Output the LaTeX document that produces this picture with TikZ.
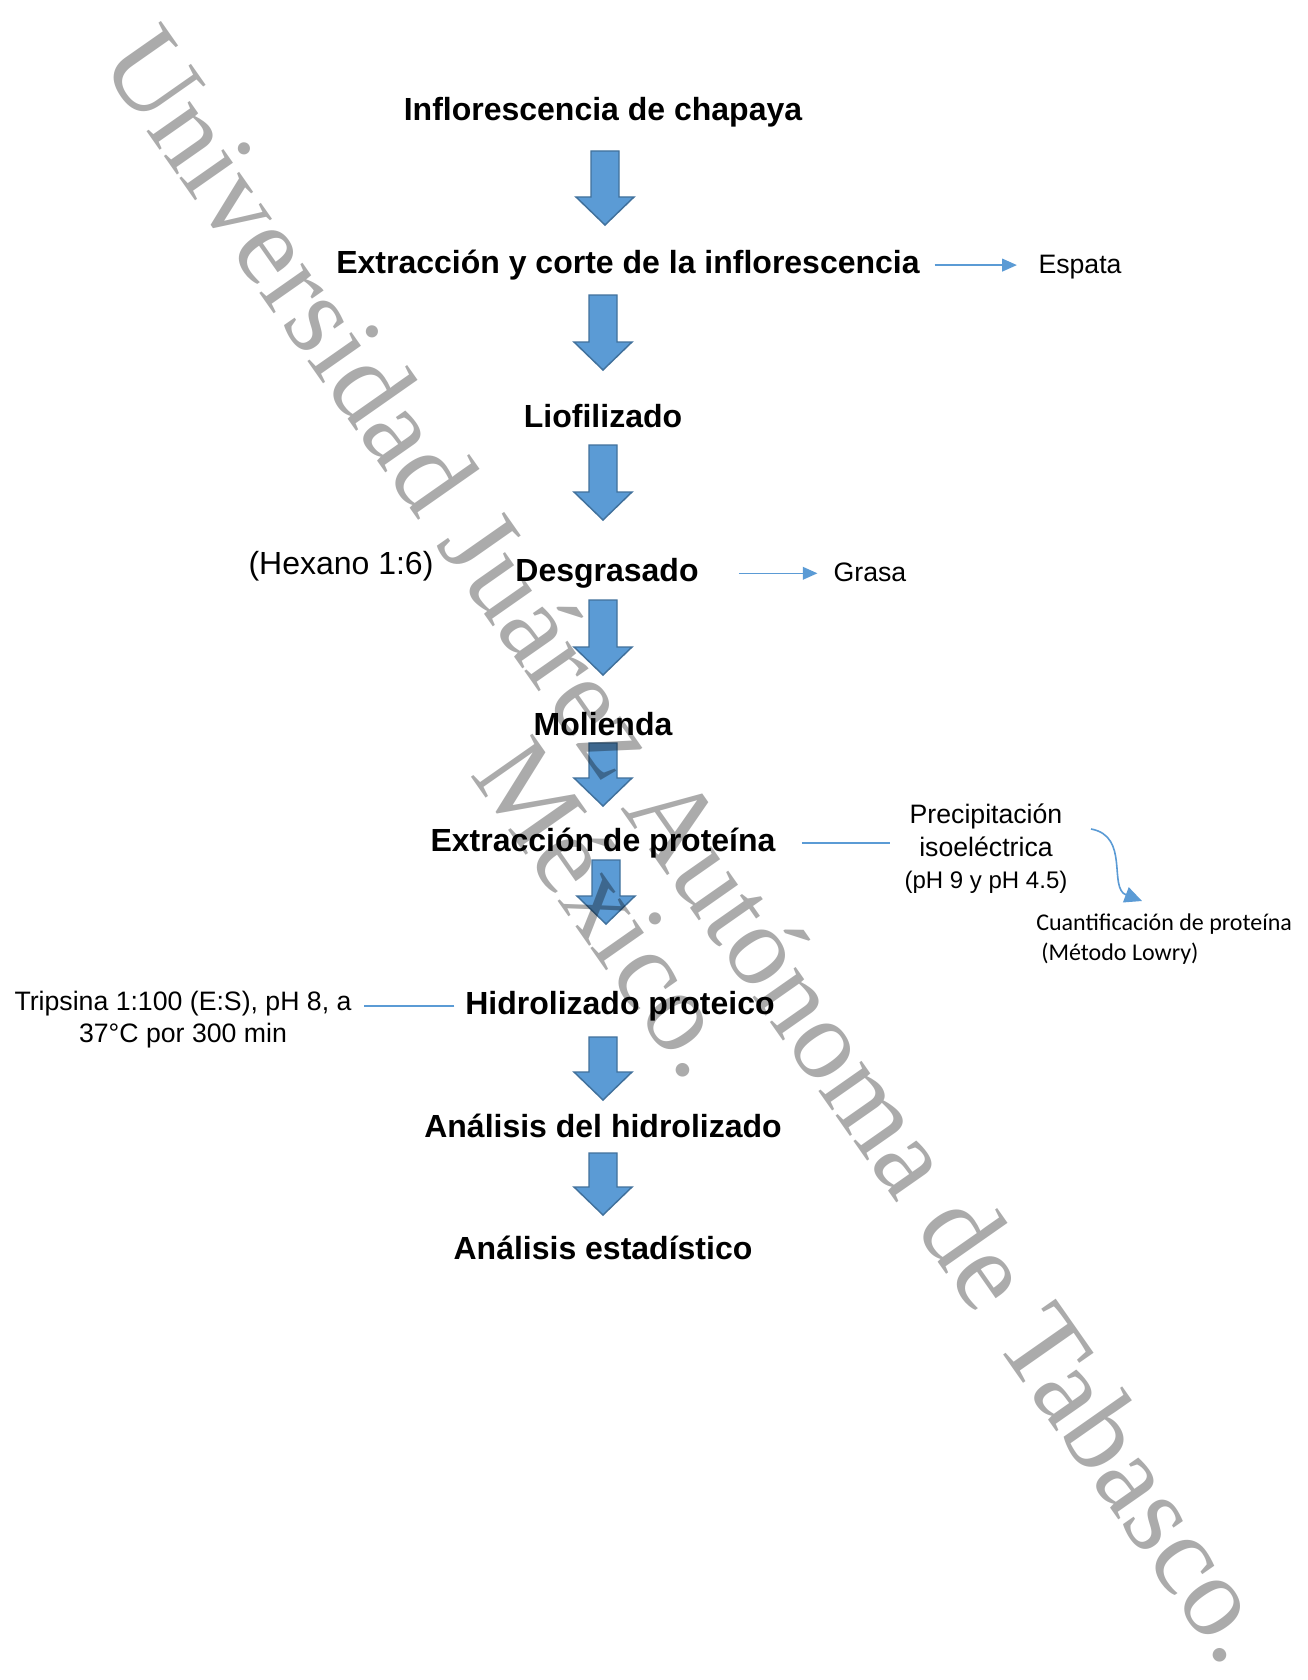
\documentclass[tikz,border=0pt]{standalone}
\usepackage{fontspec}
\setmainfont{Liberation Sans}
\newfontfamily\wmfont{Liberation Serif}
\newfontfamily\calfont{Carlito}
\usetikzlibrary{arrows.meta}
\definecolor{arrowfill}{HTML}{5B9BD5}
\definecolor{arrowline}{HTML}{41719C}
\definecolor{connblue}{HTML}{5B9BD5}
\tikzset{
  stepnode/.style={inner sep=0pt, anchor=base, font=\fontsize{24}{28}\selectfont\bfseries},
  sidenode/.style={inner sep=0pt, anchor=base, font=\fontsize{20}{24}\selectfont},
  smallside/.style={inner sep=0pt, anchor=base, font=\fontsize{18}{22}\selectfont},
  hexnode/.style={inner sep=0pt, anchor=base, font=\fontsize{24}{28}\selectfont},
  calnode/.style={inner sep=0pt, anchor=base west, font=\calfont\fontsize{18}{22}\selectfont},
  blockarrow/.style={fill=arrowfill, draw=arrowline, line width=1.1pt, line join=miter},
  connline/.style={draw=connblue, line width=1.2pt},
  connarrow/.style={connline, -{Triangle[length=11pt,width=9.5pt]}},
  wmark/.style={inner sep=0pt, anchor=base, rotate=-55, text=black, text opacity=0.33,
    font=\wmfont\fontsize{86}{100}\selectfont}
}
\newcommand{\blockdown}[3]{%
  \draw[blockarrow] (#1-14,#2) -- (#1+14,#2) -- (#1+14,#3-28) -- (#1+29,#3-28)
    -- (#1,#3) -- (#1-29,#3-28) -- (#1-14,#3-28) -- cycle;}
\begin{document}
\begin{tikzpicture}[x=0.75pt,y=-0.75pt]
\fill[white] (0,0) rectangle (1308,1680);
\useasboundingbox (0,0) rectangle (1308,1680);

% main steps
\node[stepnode] (inflo) at (603,120.5) {Inflorescencia de chapaya};
\node[stepnode] (extr)  at (628,273.5) {Extracción y corte de la inflorescencia};
\node[stepnode] (liof)  at (603,427.5) {Liofilizado};
\node[stepnode] (desg)  at (607,581.5) {Desgrasado};
\node[stepnode] (moli)  at (603,735.5) {Molienda};
\node[stepnode] (extp)  at (603,851.5) {Extracción de proteína};
\node[stepnode] (hidr)  at (620,1014.5) {Hidrolizado proteico};
\node[stepnode] (anah)  at (603,1137.5) {Análisis del hidrolizado};
\node[stepnode] (anae)  at (603,1259.5) {Análisis estadístico};

% block arrows
\blockdown{605}{151}{225}
\blockdown{603}{295}{370}
\blockdown{603}{445}{520}
\blockdown{603}{600}{675}
\blockdown{603}{743}{806}
\blockdown{606}{860}{924}
\blockdown{603}{1037}{1100}
\blockdown{603}{1153}{1215}

% side texts
\node[sidenode]  (espata) at (1080,273) {Espata};
\node[hexnode]   (hexano) at (341,574.5) {(Hexano 1:6)};
\node[sidenode]  (grasa)  at (870,581.5) {Grasa};
\node[sidenode]  (prec1)  at (986,823.5) {Precipitación};
\node[sidenode]  (prec2)  at (986,856.5) {isoeléctrica};
\node[smallside] (prec3)  at (986,888.5) {(pH 9 y pH 4.5)};
\node[calnode]   (cuan1)  at (1036,930) {Cuantificación de proteína};
\node[calnode]   (cuan2)  at (1041,960) {(Método Lowry)};
\node[sidenode]  (trip1)  at (183,1010.5) {Tripsina 1:100 (E:S), pH 8, a};
\node[sidenode]  (trip2)  at (183,1042.5) {37°C por 300 min};

% connectors (shorten values in pt = 0.75 * px)
\draw[connarrow, shorten <=11pt, shorten >=16pt] (extr.east) -- (extr.east -| espata.west);
\draw[connarrow, shorten <=30pt, shorten >=12pt] (desg.east) -- (desg.east -| grasa.west);
\draw[connline, shorten <=19.5pt, shorten >=21.5pt] (extp.east) -- (extp.east -| prec2.west);
\draw[connline, shorten <=8pt, shorten >=9.5pt] (hidr.west) -- (hidr.west -| trip1.east);
\coordinate (cstart) at (1091,829);
\coordinate (cend) at (1142,901);
\draw[connline, -{Triangle[length=13pt,width=12pt]}] (cstart) .. controls (1130,836) and (1108,888) .. (cend);

% watermark
\node[wmark] (wm1) at (661,866) {Universidad Juárez Autónoma de Tabasco.};
\node[wmark] (wm2) at (578,930) {México.};
\end{tikzpicture}
\end{document}
